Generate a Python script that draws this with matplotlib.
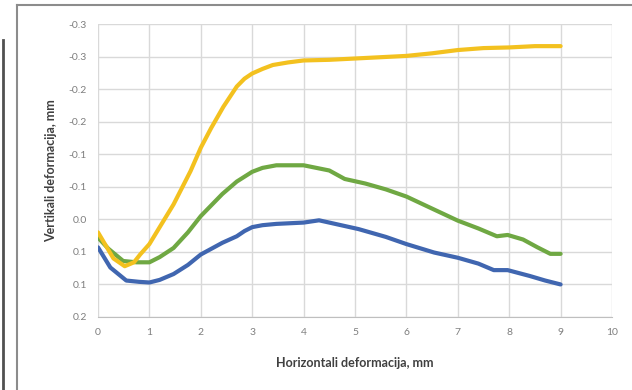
import matplotlib
matplotlib.use("Agg")
import matplotlib.pyplot as plt
from matplotlib.lines import Line2D

plt.rcParams['font.family'] = ['Lato', 'DejaVu Sans']

# Data
yellow_x = [0.0, 0.15, 0.3, 0.52, 0.7, 0.82, 1.0, 1.2, 1.47, 1.8, 2.0, 2.2, 2.44, 2.7, 2.85, 3.0, 3.2, 3.4, 3.7, 4.0, 4.5, 5.0, 5.5, 6.0, 6.5, 7.0, 7.5, 8.0, 8.5, 9.0]
yellow_y = [0.020, 0.040, 0.060, 0.072, 0.066, 0.054, 0.038, 0.012, -0.023, -0.074, -0.110, -0.140, -0.173, -0.204, -0.216, -0.224, -0.231, -0.237, -0.241, -0.244, -0.245, -0.247, -0.249, -0.251, -0.255, -0.260, -0.263, -0.264, -0.266, -0.266]

green_x = [0.0, 0.2, 0.49, 0.75, 1.0, 1.2, 1.47, 1.75, 2.0, 2.42, 2.7, 3.0, 3.2, 3.47, 4.0, 4.5, 4.8, 5.2, 5.6, 6.0, 6.54, 7.0, 7.4, 7.76, 7.97, 8.27, 8.55, 8.8, 9.0]
green_y = [0.028, 0.045, 0.064, 0.066, 0.066, 0.058, 0.044, 0.020, -0.005, -0.039, -0.058, -0.073, -0.079, -0.083, -0.083, -0.075, -0.062, -0.055, -0.046, -0.035, -0.015, 0.002, 0.014, 0.026, 0.024, 0.031, 0.043, 0.053, 0.053]

blue_x = [0.0, 0.24, 0.55, 0.8, 1.0, 1.2, 1.47, 1.75, 2.0, 2.42, 2.7, 2.85, 3.0, 3.2, 3.47, 4.0, 4.3, 4.5, 5.07, 5.6, 6.0, 6.54, 7.0, 7.4, 7.7, 7.97, 8.4, 8.7, 9.0]
blue_y = [0.043, 0.074, 0.094, 0.096, 0.097, 0.093, 0.084, 0.070, 0.054, 0.036, 0.026, 0.018, 0.012, 0.009, 0.007, 0.005, 0.0015, 0.005, 0.015, 0.027, 0.038, 0.051, 0.059, 0.068, 0.078, 0.078, 0.087, 0.094, 0.100]

y_ticks = [-0.30, -0.25, -0.20, -0.15, -0.10, -0.05, 0.0, 0.05, 0.10, 0.15]
y_tick_labels = ["-0.3", "-0.3", "-0.2", "-0.2", "-0.1", "-0.1", "0.0", "0.1", "0.1", "0.2"]
x_ticks = [0, 1, 2, 3, 4, 5, 6, 7, 8, 9, 10]

fig = plt.figure(figsize=(6.32, 3.90), dpi=100)
ax = fig.add_axes([98/632, 1-317/390, (612-98)/632, (317-24)/390])

lw = 3.0
ax.plot(blue_x, blue_y, color='#4066B0', lw=lw, solid_capstyle='round', solid_joinstyle='round', zorder=3)
ax.plot(green_x, green_y, color='#6FA843', lw=lw, solid_capstyle='round', solid_joinstyle='round', zorder=3)
ax.plot(yellow_x, yellow_y, color='#F3C11F', lw=lw, solid_capstyle='round', solid_joinstyle='round', zorder=4)

ax.set_xlim(0, 10)
ax.set_ylim(0.15, -0.30)
ax.set_xticks(x_ticks)
ax.set_yticks(y_ticks)
ax.set_yticklabels(y_tick_labels)
ax.grid(True, color='#D9D9D9', lw=1.0)
ax.set_axisbelow(True)
for s in ['top', 'right', 'left']:
    ax.spines[s].set_visible(False)
ax.spines['bottom'].set_color('#BFBFBF')
ax.tick_params(length=0, labelsize=7.5, colors='#7F7F7F', pad=8)

ax.set_xlabel('Horizontali deformacija, mm', fontsize=9, fontweight='bold', color='#404040', labelpad=14)
ax.set_ylabel('Vertikali deformacija, mm', fontsize=9, fontweight='bold', color='#404040', labelpad=8)

# Chart frame
fig.add_artist(Line2D([17/632, 1.0], [1-5/390, 1-5/390], transform=fig.transFigure, color='#8C8C8C', lw=1.5))
fig.add_artist(Line2D([17/632, 17/632], [0.0, 1-5/390], transform=fig.transFigure, color='#8C8C8C', lw=1.5))
fig.add_artist(Line2D([3/632, 3/632], [0.0, 1-40/390], transform=fig.transFigure, color='#505050', lw=2.0))

fig.savefig('out.png', dpi=100)
